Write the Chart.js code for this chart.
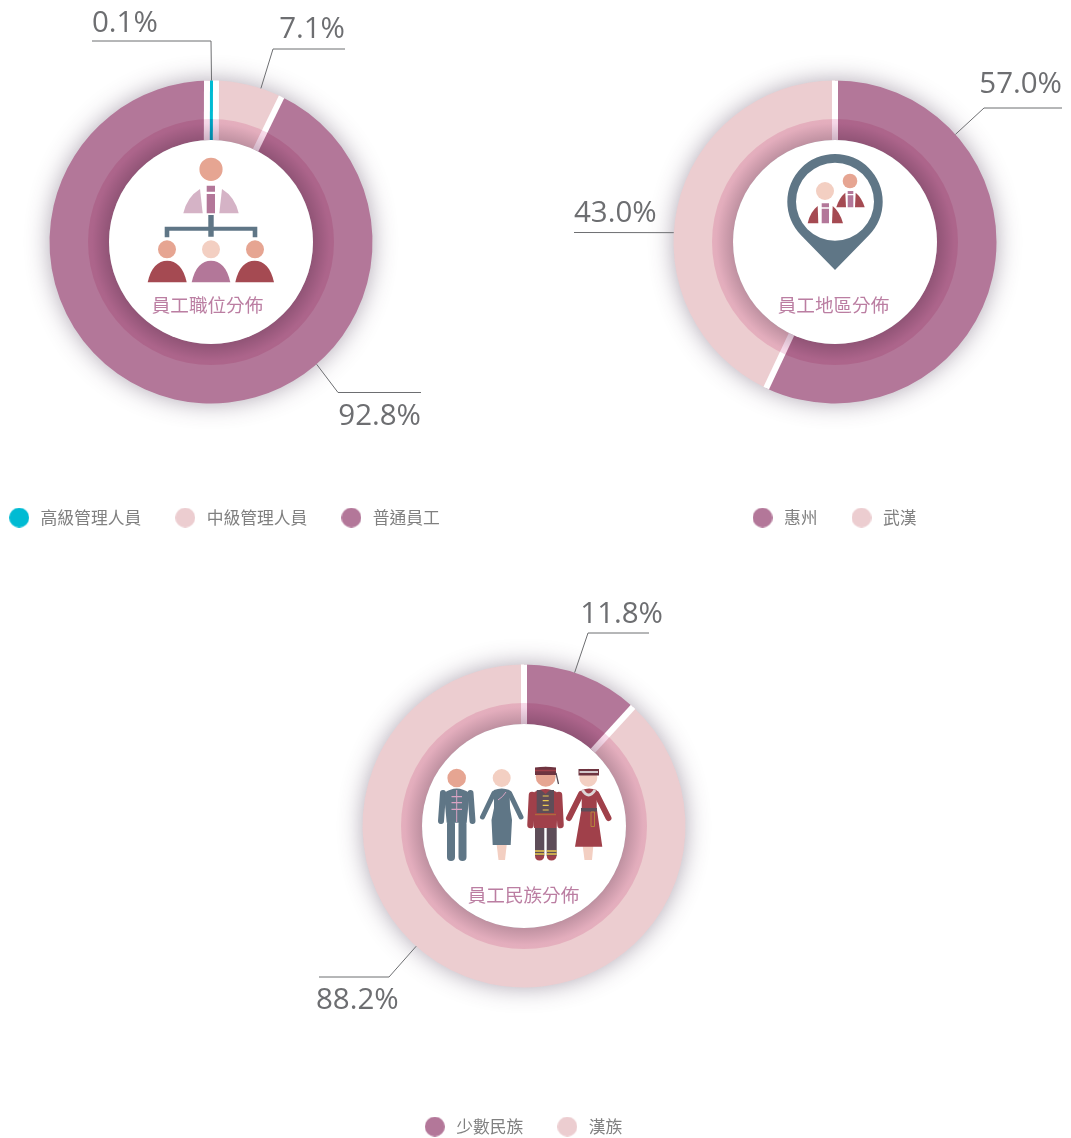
<!DOCTYPE html>
<html>
<head>
<meta charset="utf-8">
<title>員工分佈</title>
<script src="https://cdn.jsdelivr.net/npm/chart.js@4"></script>
<style>
html, body { margin: 0; padding: 0; background: #fff; overflow: hidden; }
#page { position: relative; width: 1071px; height: 1138px; overflow: hidden; }
#page canvas { position: absolute; }
</style>
</head>
<body>
<div id="page"></div>
<script>
// 員工分佈 doughnuts, one canvas per chart
const roleLabels = ['高級管理人員', '中級管理人員', '普通員工'];
const roleValues = [0.1, 7.1, 92.8];
const regionLabels = ['惠州', '武漢'];
const regionValues = [57.0, 43.0];
const ethnicLabels = ['少數民族', '漢族'];
const ethnicValues = [11.8, 88.2];

const CYAN = '#00bbd3', PINK = '#eccdd0', PLUM = '#b37799';
const roleColors = [CYAN, PINK, PLUM];
const regionColors = [PLUM, PINK];
const ethnicColors = [PLUM, PINK];

const RADIUS = 161.5, HOLE = 102, SHADE = 123;
const SLATE = '#5f7686', HEAD = '#e6a592', FACE = '#f3cfc2', WINE = '#a54a52', LILAC = '#d5b3c6';
const DARK = '#5e4d58', RED = '#a0404a', GOLD = '#ecc94f';

function dot(x, y, r) {
    return `M${x - r} ${y}a${r} ${r} 0 1 0 ${2 * r} 0a${r} ${r} 0 1 0 ${-2 * r} 0Z`;
}
function dome(x0, x1, bottom, top) {
    const mid = (x0 + x1) / 2;
    return `M${x0} ${bottom}C${x0 + 3} ${top + 7} ${mid - 9} ${top} ${mid} ${top}S${x1 - 3} ${top + 7} ${x1} ${bottom}Z`;
}

// icon parts: [colour, svg path] filled, or [colour, svg path, width] stroked
const roleIcon = [
    [HEAD, dot(211, 169.3, 11.6)],
    [LILAC, 'M183.3 213.3Q187 197 200 189L202.7 213.3Z'],
    [LILAC, 'M238.7 213.3Q235 197 222 189L219.3 213.3Z'],
    [PLUM, 'M206.7 185.7H215V191.7H206.7ZM206.7 194H215V213.3H206.7Z'],
    [SLATE, 'M208.3 215H213.7V226.7H257.3V237.3H252.7V230.7H213.7V236.7H208.3V230.7H169.3V237.3H164.7V226.7H208.3Z'],
    [HEAD, dot(167, 249.3, 9)],
    [FACE, dot(211, 249.3, 9)],
    [HEAD, dot(255, 249.3, 9)],
    [WINE, dome(147.7, 186.7, 282.3, 260.7)],
    [PLUM, dome(191.7, 230.3, 282.3, 260.7)],
    [WINE, dome(235.3, 274, 282.3, 260.7)]
];
const regionIcon = [
    [SLATE, 'M801.3 235.4A47.7 47.7 0 1 1 868.7 235.4L835 270Z' + dot(835, 201.7, 39)],
    [FACE, dot(825, 191, 9)],
    [WINE, 'M807.7 223.3Q810 212 817.7 206L818.3 223.3Z'],
    [WINE, 'M843 223.3Q840 212 832.7 206L832 223.3Z'],
    [PLUM, 'M821.7 203.3H829V207.3H821.7ZM821.7 208.7H829V223.3H821.7Z'],
    [HEAD, dot(850, 181, 7.3)],
    [WINE, 'M836.3 207.3Q839 198 845.3 192.7L846 207.3Z'],
    [WINE, 'M864.7 207.3Q862 198 855.7 192.7L855 207.3Z'],
    [PLUM, 'M847.7 191H853.3V194H847.7ZM847.7 195.3H853.3V207.3H847.7Z']
];
const ethnicIcon = [
    // man in changshan
    [HEAD, dot(456.7, 778, 9.3)],
    [SLATE, 'M443 793L441 821', 6],
    [SLATE, 'M470.5 793L472.5 821', 6],
    [SLATE, 'M444 793Q456.7 784 469.5 793L466.7 822.7H446.7Z'],
    [SLATE, 'M451 824V857', 8],
    [SLATE, 'M462.5 824V857', 8],
    ['#d9a3c3', 'M456.7 790V822', 1],
    ['#d9a3c3', 'M451.5 796.7H462M451.5 802.7H462M451.5 809.3H462', 1.2],
    // woman in qipao
    [FACE, dot(501.7, 778, 9)],
    [FACE, 'M496.7 845H506.7L505 860H498.5Z'],
    [SLATE, 'M494 793L482.5 817', 5],
    [SLATE, 'M509.5 793L521 817', 5],
    [SLATE, 'M494 790Q501.7 787 509.5 790L510 808L512 820L510.7 845H492.7L491.5 820L494 808Z'],
    ['#d9a3c3', 'M506 792Q503 797 498 800', 1],
    // man in vest
    [RED, 'M532 795L530.5 825', 6.5],
    [RED, 'M559 795L560.5 825', 6.5],
    [DARK, 'M535 828H544.3V856H535ZM546.7 828H556.7V856H546.7Z'],
    [GOLD, 'M535 851H544.3M546.7 851H556.7M535 854H544.3M546.7 854H556.7', 1.4],
    [RED, 'M535 855.5H544.3Q544 860.5 539.5 860.5T535 855.5ZM546.7 855.5H556.7Q556 860.5 551.5 860.5T546.7 855.5Z'],
    [RED, 'M533 793Q545.5 785 558 793L556.7 828H534Z'],
    [DARK, 'M536.7 790H541L545.5 794L550 790H554V813H536.7Z'],
    [GOLD, 'M542.7 796H548.7M542.7 800.7H548.7M542.7 805.3H548.7M542.7 810H548.7', 1.2],
    ['#b06a3c', 'M535 814.5H556', 1.4],
    [HEAD, dot(545.7, 776.7, 10)],
    ['#6e3440', 'M535 767.5Q545.5 766 556 767.5V775H535Z'],
    [RED, 'M535 770.5H556', 1.5],
    ['#4f4650', 'M556 773L558.5 784', 1.2],
    // woman in long dress
    [FACE, dot(588.3, 777.7, 9)],
    [FACE, 'M582.7 846H593.3L592 860H584.5Z'],
    [RED, 'M581 794L569 818', 6],
    [RED, 'M596.5 794L608.5 818', 6],
    [RED, 'M581.7 790Q589 787 596.7 790V808L602.3 846.7H575L581.7 808Z'],
    ['#dcd6d6', 'M582.5 790Q588.5 800 595 790', 3],
    [DARK, 'M581 808H597V811.5H581Z'],
    ['#b88a3c', 'M591 812H594.5V826.5H591Z', 0.9],
    ['#6e3440', 'M578.5 769H599V775.5H578.5Z'],
    ['#eee', 'M579.5 772H598', 1.6]
];

// leader lines: "at" is how far along the arc the line leaves it, then page coordinates
const roleLeaders = [
    { at: 0.5, points: [[211, 41], [92, 41]], text: [92, 32], align: 'left' },
    { at: 0.69, points: [[273, 49], [345, 49]], text: [345, 38], align: 'right' },
    { at: 0.339, points: [[338, 392.5], [421, 392.5]], text: [421, 425], align: 'right' }
];
const regionLeaders = [
    { at: 0.235, points: [[984, 108], [1062, 108]], text: [1062, 93], align: 'right' },
    { at: 0.44, points: [[574, 232.5]], text: [574, 222], align: 'left' }
];
const ethnicLeaders = [
    { at: 0.43, points: [[588, 633], [649, 633]], text: [663, 623], align: 'right' },
    { at: 0.565, points: [[389, 977], [319, 977]], text: [316, 1009], align: 'left' }
];

// one dot canvas per legend colour, wider box keeps the text clear of it
function legendDot(color) {
    const c = document.createElement('canvas');
    c.width = c.height = 20;
    const g = c.getContext('2d');
    g.fillStyle = color;
    g.beginPath();
    g.arc(10, 10, 10, 0, Math.PI * 2);
    g.fill();
    return c;
}

const ringPlugin = {
    id: 'ring',
    // the ring sits at its own place on the page, the legend stays where the layout put it
    afterLayout(chart, args, opts) {
        const area = chart.chartArea;
        area.left = opts.center[0] - opts.box.left - RADIUS;
        area.right = area.left + 2 * RADIUS;
        area.top = opts.center[1] - opts.box.top - RADIUS;
        area.bottom = area.top + 2 * RADIUS;
        area.width = area.height = 2 * RADIUS;
    },
    beforeDatasetsDraw(chart) {
        const first = chart.getDatasetMeta(0).data[0];
        const ctx = chart.ctx;
        ctx.save();
        ctx.shadowColor = 'rgba(70,50,80,0.45)';
        ctx.shadowBlur = 24;
        ctx.fillStyle = '#ccc';
        ctx.beginPath();
        ctx.arc(first.x, first.y, first.outerRadius - 0.5, 0, Math.PI * 2);
        ctx.fill();
        ctx.restore();
    },
    afterDatasetsDraw(chart, args, opts) {
        const arcs = chart.getDatasetMeta(0).data;
        const ctx = chart.ctx;
        const cx = arcs[0].x, cy = arcs[0].y;
        const strip = (angle, color, width) => {
            ctx.strokeStyle = color;
            ctx.lineWidth = width;
            ctx.beginPath();
            ctx.moveTo(cx + Math.cos(angle) * HOLE, cy + Math.sin(angle) * HOLE);
            ctx.lineTo(cx + Math.cos(angle) * RADIUS, cy + Math.sin(angle) * RADIUS);
            ctx.stroke();
        };
        const tiny = a => a.endAngle - a.startAngle < 0.02;

        ctx.save();
        // white gaps between slices, a slice too thin to see gets a fixed width mark
        arcs.forEach((a, i) => {
            const prev = arcs[(i + arcs.length - 1) % arcs.length];
            if (!tiny(a) && !tiny(prev)) strip(a.startAngle, '#fff', 6);
        });
        arcs.forEach((a, i) => {
            if (tiny(a)) {
                const mid = (a.startAngle + a.endAngle) / 2;
                strip(mid, '#fff', 15);
                strip(mid, chart.data.datasets[0].backgroundColor[i], 3);
            }
        });

        // darker inner band over the slices, fades towards the rim
        const shade = ctx.createRadialGradient(cx, cy, HOLE, cx, cy, SHADE);
        shade.addColorStop(0, 'rgb(206,180,197)');
        shade.addColorStop(0.8, 'rgb(245,215,231)');
        shade.addColorStop(1, 'rgb(247,218,232)');
        ctx.globalCompositeOperation = 'multiply';
        ctx.fillStyle = shade;
        ctx.beginPath();
        ctx.arc(cx, cy, SHADE, 0, Math.PI * 2);
        ctx.fill();
        ctx.globalCompositeOperation = 'source-over';

        ctx.fillStyle = '#fff';
        ctx.beginPath();
        ctx.arc(cx, cy, HOLE, 0, Math.PI * 2);
        ctx.fill();

        // everything below is in page coordinates
        ctx.translate(-opts.box.left, -opts.box.top);
        ctx.lineCap = 'butt';
        opts.icon.forEach(([color, d, width]) => {
            const path = new Path2D(d);
            if (width) {
                ctx.strokeStyle = color;
                ctx.lineWidth = width;
                ctx.lineCap = width > 3 ? 'round' : 'butt';
                ctx.stroke(path);
            } else {
                ctx.fillStyle = color;
                ctx.fill(path, 'evenodd');
            }
        });

        ctx.fillStyle = '#bb7ea2';
        ctx.font = '18.6px "Noto Sans CJK TC"';
        ctx.textAlign = 'center';
        ctx.textBaseline = 'middle';
        ctx.fillText(opts.title, opts.titleAt[0], opts.titleAt[1]);

        ctx.textBaseline = 'alphabetic';
        ctx.font = '29.5px "Open Sans"';
        const values = chart.data.datasets[0].data;
        opts.leaders.forEach((l, i) => {
            const a = arcs[i];
            const angle = a.startAngle + (a.endAngle - a.startAngle) * l.at;
            ctx.strokeStyle = '#6d6e71';
            ctx.lineWidth = 1;
            ctx.lineCap = 'butt';
            ctx.beginPath();
            ctx.moveTo(opts.center[0] + Math.cos(angle) * RADIUS, opts.center[1] + Math.sin(angle) * RADIUS);
            l.points.forEach(p => ctx.lineTo(p[0], p[1]));
            ctx.stroke();
            ctx.fillStyle = '#6d6e71';
            ctx.textAlign = l.align;
            ctx.fillText(values[i].toFixed(1) + '%', l.text[0], l.text[1]);
        });
        ctx.restore();
    }
};

function addDoughnut(labels, values, colors, box, center, title, titleAt, icon, leaders) {
    const canvas = document.createElement('canvas');
    canvas.width = box.width;
    canvas.height = box.height;
    canvas.style.left = box.left + 'px';
    canvas.style.top = box.top + 'px';
    document.getElementById('page').appendChild(canvas);
    return new Chart(canvas.getContext('2d'), {
        type: 'doughnut',
        data: {
            labels: labels,
            datasets: [{ data: values, backgroundColor: colors, borderWidth: 0, hoverOffset: 0 }]
        },
        options: {
            responsive: false,
            animation: false,
            radius: RADIUS,
            cutout: (HOLE / RADIUS * 100) + '%',
            events: [],
            plugins: {
                tooltip: { enabled: false },
                legend: {
                    position: 'bottom',
                    labels: {
                        usePointStyle: true,
                        pointStyleWidth: 26,
                        boxHeight: 14,
                        padding: 31,
                        color: '#808080',
                        font: { family: '"Noto Sans CJK TC"', size: 16.8 },
                        generateLabels: () => labels.map((text, i) => ({
                            text: text,
                            fillStyle: colors[i],
                            strokeStyle: colors[i],
                            fontColor: '#808080',
                            lineWidth: 0,
                            pointStyle: legendDot(colors[i]),
                            index: i
                        }))
                    }
                },
                ring: { box: box, center: center, title: title, titleAt: titleAt, icon: icon, leaders: leaders }
            }
        },
        plugins: [ringPlugin]
    });
}

addDoughnut(roleLabels, roleValues, roleColors,
    { left: -47, top: 0, width: 540, height: 536 }, [211, 242], '員工職位分佈', [207.5, 305], roleIcon, roleLeaders);
addDoughnut(regionLabels, regionValues, regionColors,
    { left: 563, top: 0, width: 540, height: 536 }, [835, 242], '員工地區分佈', [833.5, 305], regionIcon, regionLeaders);
addDoughnut(ethnicLabels, ethnicValues, ethnicColors,
    { left: 252, top: 566, width: 540, height: 579 }, [524, 826], '員工民族分佈', [523.5, 895], ethnicIcon, ethnicLeaders);
</script>
</body>
</html>
